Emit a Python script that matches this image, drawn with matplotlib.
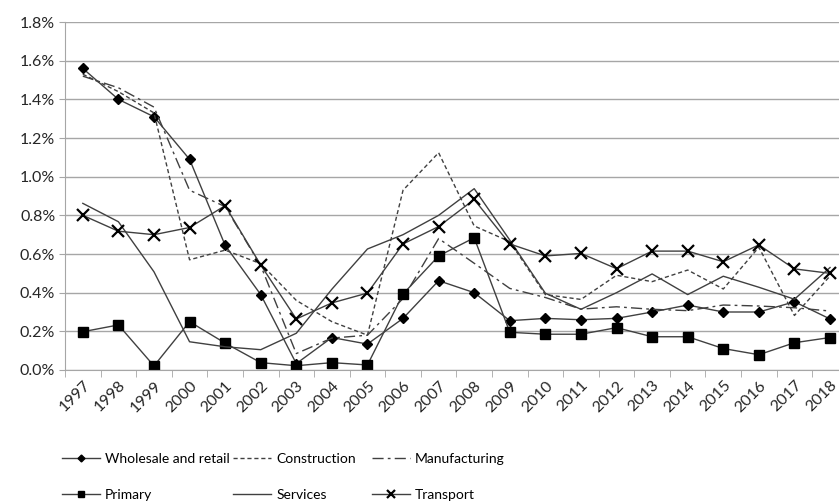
import numpy as np
import matplotlib
matplotlib.use('Agg')
import matplotlib.pyplot as plt
from matplotlib.ticker import FuncFormatter, FixedLocator

plt.rcParams['font.family'] = ['Lato', 'DejaVu Sans']

years = [str(y) for y in range(1997, 2019)]

# values in percent
wholesale = [1.56, 1.40, 1.31, 1.09, 0.645, 0.39, 0.033, 0.168, 0.134, 0.267, 0.462,
             0.40, 0.255, 0.267, 0.26, 0.267, 0.30, 0.336, 0.30, 0.30, 0.353, 0.264]
construction = [1.53, 1.44, 1.33, 0.57, 0.62, 0.55, 0.36, 0.25, 0.18, 0.93, 1.124,
                0.745, 0.664, 0.39, 0.365, 0.49, 0.457, 0.517, 0.419, 0.635, 0.282, 0.486]
manufacturing = [1.52, 1.46, 1.36, 0.93, 0.845, 0.54, 0.085, 0.165, 0.18, 0.37, 0.68,
                 0.552, 0.422, 0.375, 0.315, 0.327, 0.314, 0.307, 0.336, 0.331, 0.322, 0.305]
primary = [0.198, 0.233, 0.021, 0.25, 0.139, 0.038, 0.022, 0.038, 0.026, 0.393, 0.59,
           0.684, 0.195, 0.185, 0.185, 0.219, 0.172, 0.172, 0.111, 0.079, 0.141, 0.168]
services = [0.862, 0.767, 0.508, 0.146, 0.12, 0.105, 0.19, 0.418, 0.626, 0.70, 0.80,
            0.938, 0.672, 0.397, 0.314, 0.40, 0.497, 0.39, 0.485, 0.428, 0.366, 0.53]
transport = [0.80, 0.718, 0.70, 0.737, 0.85, 0.543, 0.264, 0.347, 0.398, 0.652, 0.742,
             0.882, 0.652, 0.59, 0.603, 0.524, 0.615, 0.615, 0.56, 0.647, 0.523, 0.50]

fig = plt.figure(figsize=(8.39, 5.01), dpi=100)
ax = fig.add_axes([0.0775, 0.2615, 0.933, 0.6945])

x = np.arange(len(years))
lc = '#404040'
ax.plot(x, wholesale, color=lc, lw=1.0, marker='D', ms=5, mfc='black', mec='black')
ax.plot(x, construction, color=lc, lw=1.0, ls=(0, (3, 2)))
ax.plot(x, manufacturing, color=lc, lw=1.0, ls=(0, (8, 3, 2, 3)))
ax.plot(x, primary, color=lc, lw=1.0, marker='s', ms=7, mfc='black', mec='black')
ax.plot(x, services, color=lc, lw=1.0)
ax.plot(x, transport, color=lc, lw=1.0, marker='x', ms=8, mew=1.6, mec='black')

ax.set_xlim(-0.5, len(years) - 0.5)
ax.set_ylim(0, 1.8)
ax.set_yticks(np.arange(0, 1.81, 0.2))
ax.yaxis.set_major_formatter(FuncFormatter(lambda v, p: '%.1f%%' % v))
ax.yaxis.grid(True, color='#a6a6a6', lw=1.0)
ax.set_axisbelow(True)

ax.set_xticks(x)
ax.set_xticklabels(years, rotation=45, ha='right', rotation_mode='anchor')
ax.xaxis.set_minor_locator(FixedLocator(np.arange(-0.5, len(years), 1)))
ax.tick_params(axis='x', which='major', length=0, labelsize=11.5, colors='#262626', pad=6)
ax.tick_params(axis='x', which='minor', length=5, color='#a6a6a6', direction='out')
ax.tick_params(axis='y', length=4, color='#a6a6a6', labelsize=11.5, labelcolor='#262626', pad=3)

for s in ['top', 'right']:
    ax.spines[s].set_visible(False)
ax.spines['left'].set_color('#a6a6a6')
ax.spines['bottom'].set_color('#a6a6a6')

lines = ax.get_lines()
labels = ['Wholesale and retail', 'Construction', 'Manufacturing',
          'Primary', 'Services', 'Transport']
# three legend columns placed at the pixel x of their handles
cols = [([lines[0], lines[3]], [labels[0], labels[3]], 62),
        ([lines[1], lines[4]], [labels[1], labels[4]], 233),
        ([lines[2], lines[5]], [labels[2], labels[5]], 372)]
for hs, ls_, px in cols:
    fig.legend(hs, ls_, loc='upper left', bbox_to_anchor=(px / 839, 1 - 453 / 501),
               frameon=False, fontsize=10, handlelength=2.75, handletextpad=0.35,
               labelspacing=1.75, borderpad=0, borderaxespad=0, markerscale=0.7)

fig.savefig('out.png', dpi=100)
